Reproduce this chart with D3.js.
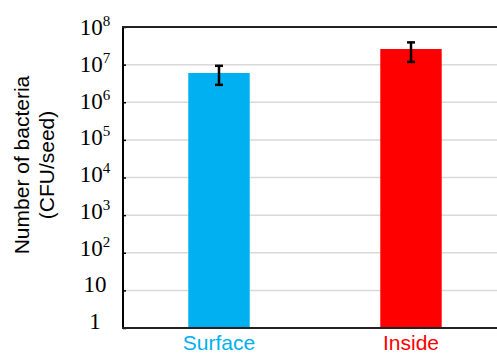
<!DOCTYPE html>
<html>
<head>
<meta charset="utf-8">
<script src="https://cdn.jsdelivr.net/npm/d3@7"></script>
<style>
  body { margin: 0; background: #ffffff; }
</style>
</head>
<body>
<script>
// chart values
const categories = ["Surface", "Inside"];
const barColors = ["#00b0f0", "#ff0000"];
const means = [6.0e6, 2.6e7];
const errLow = [2.9e6, 1.18e7];
const errHigh = [9.3e6, 3.9e7];
const tickExps = [0, 1, 2, 3, 4, 5, 6, 7, 8];

const W = 497, H = 353;

const svg = d3.select("body").append("svg")
  .attr("width", W)
  .attr("height", H)
  .style("display", "block");

// scales
const y = d3.scaleLog().domain([1, 1e8]).range([328, 27]);
const x = d3.scaleBand()
  .domain(categories)
  .range([123, 507])
  .paddingInner(0.68)
  .paddingOuter(0.34);

// light gridlines
svg.append("g")
  .selectAll("line")
  .data(tickExps.filter(e => e > 0 && e < 8))
  .join("line")
  .attr("x1", 123)
  .attr("x2", W)
  .attr("y1", e => y(Math.pow(10, e)))
  .attr("y2", e => y(Math.pow(10, e)))
  .attr("stroke", "#d9d9d9")
  .attr("stroke-width", 1.5);

// bars
svg.append("g")
  .selectAll("rect")
  .data(categories)
  .join("rect")
  .attr("x", d => x(d))
  .attr("width", x.bandwidth())
  .attr("y", (d, i) => y(means[i]))
  .attr("height", (d, i) => y(1) - y(means[i]))
  .attr("fill", (d, i) => barColors[i]);

// error bars
const eb = svg.append("g")
  .attr("stroke", "#000000")
  .attr("stroke-width", 2.5);
categories.forEach((c, i) => {
  const cx = x(c) + x.bandwidth() / 2;
  eb.append("line")
    .attr("x1", cx).attr("x2", cx)
    .attr("y1", y(errHigh[i])).attr("y2", y(errLow[i]));
  eb.append("line")
    .attr("x1", cx - 4).attr("x2", cx + 4)
    .attr("y1", y(errHigh[i])).attr("y2", y(errHigh[i]));
  eb.append("line")
    .attr("x1", cx - 4).attr("x2", cx + 4)
    .attr("y1", y(errLow[i])).attr("y2", y(errLow[i]));
});

// frame: left axis, top and bottom lines
const axisG = svg.append("g")
  .attr("transform", "translate(123,0)")
  .call(d3.axisRight(y).tickValues(tickExps.map(e => Math.pow(10, e))).tickSize(3).tickFormat(""));
axisG.select(".domain").remove();
axisG.selectAll(".tick line").attr("stroke", "#000000").attr("stroke-width", 1.5);

svg.append("line")
  .attr("x1", 123).attr("x2", 123)
  .attr("y1", y(1e8) - 1).attr("y2", y(1) + 1)
  .attr("stroke", "#000000").attr("stroke-width", 2);
svg.append("line")
  .attr("x1", 122).attr("x2", W)
  .attr("y1", y(1e8)).attr("y2", y(1e8))
  .attr("stroke", "#222222").attr("stroke-width", 2);
svg.append("line")
  .attr("x1", 122).attr("x2", W)
  .attr("y1", y(1)).attr("y2", y(1))
  .attr("stroke", "#222222").attr("stroke-width", 2);

// y tick labels (10 with superscript exponent)
const lab = svg.append("g")
  .attr("font-family", "'Liberation Serif', 'DejaVu Serif', serif")
  .attr("font-size", 23)
  .attr("fill", "#000000")
  .attr("text-anchor", "middle");
tickExps.forEach(e => {
  const ty = y(Math.pow(10, e)) + 8 - 7 * (8 - e) / 8;
  const t = lab.append("text").attr("x", 95).attr("y", ty);
  if (e === 0) {
    t.text("1");
  } else if (e === 1) {
    t.text("10");
  } else {
    t.append("tspan").text("10");
    t.append("tspan")
      .attr("font-size", 15)
      .attr("dy", -9)
      .text(e);
  }
});

// y axis title
const yt = svg.append("text")
  .attr("transform", "translate(0,165) rotate(-90)")
  .attr("font-family", "'Liberation Sans', Arial, sans-serif")
  .attr("font-size", 21)
  .attr("fill", "#000000")
  .attr("text-anchor", "middle");
yt.append("tspan").attr("x", 0).attr("y", 29).text("Number of bacteria");
yt.append("tspan").attr("x", 0).attr("y", 54).text("(CFU/seed)");

// x category labels
svg.append("g")
  .selectAll("text")
  .data(categories)
  .join("text")
  .attr("x", d => x(d) + x.bandwidth() / 2)
  .attr("y", 350)
  .attr("text-anchor", "middle")
  .attr("font-family", "'Liberation Sans', Arial, sans-serif")
  .attr("font-size", 21)
  .attr("fill", (d, i) => barColors[i])
  .text(d => d);
</script>
</body>
</html>
